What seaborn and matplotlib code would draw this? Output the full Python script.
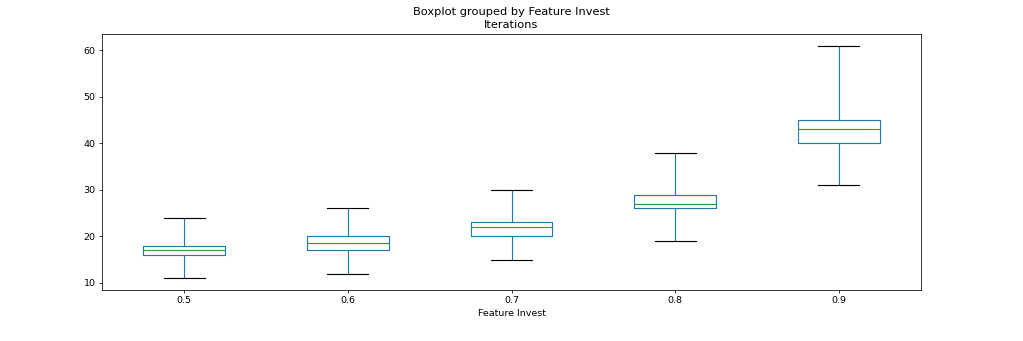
import matplotlib
matplotlib.use("Agg")
import matplotlib.pyplot as plt
import pandas as pd
import seaborn as sns

# Five-number summary (min, Q1, median, Q3, max) of iterations per feature-invest level
feature_invest = ["0.5", "0.6", "0.7", "0.8", "0.9"]
iters_05 = [11, 16, 17, 18, 24]
iters_06 = [12, 17, 18.5, 20, 26]
iters_07 = [15, 20, 22, 23, 30]
iters_08 = [19, 26, 27, 29, 38]
iters_09 = [31, 40, 43, 45, 61]

groups = [iters_05, iters_06, iters_07, iters_08, iters_09]
df = pd.DataFrame({
    "Feature Invest": [lvl for lvl, vals in zip(feature_invest, groups) for _ in vals],
    "Iterations": [v for vals in groups for v in vals],
})

fig, ax = plt.subplots(figsize=(15, 5), dpi=68.2)
fig.subplots_adjust(left=0.1, right=0.9, top=0.9, bottom=0.15)

sns.boxplot(
    data=df, x="Feature Invest", y="Iterations", order=feature_invest,
    whis=(0, 100), width=0.5, fill=False, color="#1f77b4", linewidth=1.2,
    boxprops=dict(color="#1f77b4"),
    whiskerprops=dict(color="#1f77b4"),
    capprops=dict(color="black"),
    medianprops=dict(color="#2ca02c"),
    ax=ax,
)

ax.set_xlim(-0.5, 4.5)
ax.set_ylim(8.5, 63.5)
ax.set_ylabel("")
ax.set_xlabel("Feature Invest")
ax.set_title("Iterations", fontsize=12)
fig.suptitle("Boxplot grouped by Feature Invest", fontsize=12)

fig.savefig("out.png", dpi=68.2)
